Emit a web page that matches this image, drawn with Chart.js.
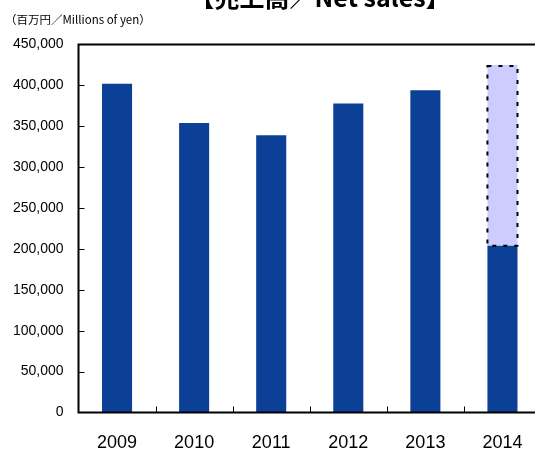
<!DOCTYPE html>
<html>
<head>
<meta charset="utf-8">
<script src="https://cdn.jsdelivr.net/npm/chart.js@4"></script>
<style>
  html, body { margin: 0; padding: 0; background: #fff; overflow: hidden; width: 535px; height: 450px; }
  #wrap { position: absolute; left: 0; top: 0; width: 545px; height: 450px; }
</style>
</head>
<body>
<div id="wrap"><canvas id="c" width="545" height="450"></canvas></div>
<script>
const titleText = '【売上高／Net sales】';
const unitText = '（百万円／Millions of yen）';
const years = ['2009', '2010', '2011', '2012', '2013', '2014'];
const actual = [402000, 354000, 339000, 378000, 394000, 204000];
const forecast = [null, null, null, null, null, 221000];
const yMin = 0, yMax = 450000, yStep = 50000;

const decor = {
  id: 'decor',
  afterDatasetsDraw(chart) {
    const ctx = chart.ctx;
    const a = chart.chartArea;
    const xs = chart.scales.x, ys = chart.scales.y;
    ctx.save();
    // dashed outline of forecast segment
    const meta = chart.getDatasetMeta(1);
    meta.data.forEach((bar, i) => {
      if (forecast[i] == null) return;
      const p = bar.getProps(['x', 'y', 'base', 'width'], true);
      ctx.strokeStyle = '#000';
      ctx.lineWidth = 2;
      ctx.setLineDash([4, 7]);
      ctx.strokeRect(p.x - p.width / 2, p.y + 1, p.width, p.base - p.y - 1);
    });
    ctx.setLineDash([]);
    // axes lines
    ctx.strokeStyle = '#000';
    ctx.lineWidth = 2;
    ctx.beginPath();
    ctx.moveTo(a.left, ys.getPixelForValue(yMax));
    ctx.lineTo(a.right, ys.getPixelForValue(yMax));
    ctx.moveTo(a.left, a.top - 1);
    ctx.lineTo(a.left, a.bottom + 1);
    ctx.moveTo(a.left - 1, a.bottom);
    ctx.lineTo(a.right, a.bottom);
    ctx.stroke();
    // inward ticks
    ctx.lineWidth = 1;
    ctx.beginPath();
    ys.ticks.forEach(t => {
      if (t.value === yMin || t.value === yMax) return;
      const py = Math.round(ys.getPixelForValue(t.value)) + 0.5;
      ctx.moveTo(a.left, py);
      ctx.lineTo(a.left + 6, py);
    });
    for (let i = 1; i < years.length; i++) {
      const px = Math.round((xs.getPixelForValue(i - 1) + xs.getPixelForValue(i)) / 2) + 0.5;
      ctx.moveTo(px, a.bottom);
      ctx.lineTo(px, a.bottom - 6);
    }
    ctx.stroke();
    ctx.restore();
  },
  afterDraw(chart) {
    const ctx = chart.ctx;
    ctx.save();
    ctx.fillStyle = '#000';
    ctx.textBaseline = 'alphabetic';
    ctx.textAlign = 'center';
    ctx.font = 'bold 25px "Noto Sans CJK JP", "Liberation Sans", sans-serif';
    ctx.fillText(titleText, 320, 7);
    ctx.textAlign = 'left';
    ctx.font = '11.5px "Noto Sans CJK JP", "Liberation Sans", sans-serif';
    ctx.fillText(unitText, 5, 24);
    ctx.restore();
  }
};

new Chart(document.getElementById('c'), {
  type: 'bar',
  data: {
    labels: years,
    datasets: [
      { label: 'Actual', data: actual, backgroundColor: '#0C4097', borderWidth: 0,
        categoryPercentage: 1, barPercentage: 0.39, stack: 's' },
      { label: 'Forecast', data: forecast, backgroundColor: '#CCCCFF', borderWidth: 0,
        categoryPercentage: 1, barPercentage: 0.39, stack: 's' }
    ]
  },
  options: {
    responsive: false,
    animation: false,
    devicePixelRatio: 1,
    layout: { padding: { left: 0, right: 4, top: 44.5, bottom: 0 } },
    plugins: { legend: { display: false }, title: { display: false }, tooltip: { enabled: false } },
    scales: {
      x: {
        stacked: true,
        grid: { display: false, drawTicks: false },
        border: { display: false },
        ticks: { color: '#000', padding: 20, font: { family: '"Liberation Sans", sans-serif', size: 18 } },
        afterFit(s) { s.height = 37.5; }
      },
      y: {
        stacked: true,
        min: yMin, max: yMax,
        grid: { display: false, drawTicks: false },
        border: { display: false },
        ticks: {
          stepSize: yStep, color: '#000', padding: 15,
          font: { family: '"Liberation Sans", sans-serif', size: 14 },
          callback: v => v.toLocaleString('en-US')
        },
        afterFit(s) { s.width = 78.5; }
      }
    }
  },
  plugins: [decor]
});
</script>
</body>
</html>
